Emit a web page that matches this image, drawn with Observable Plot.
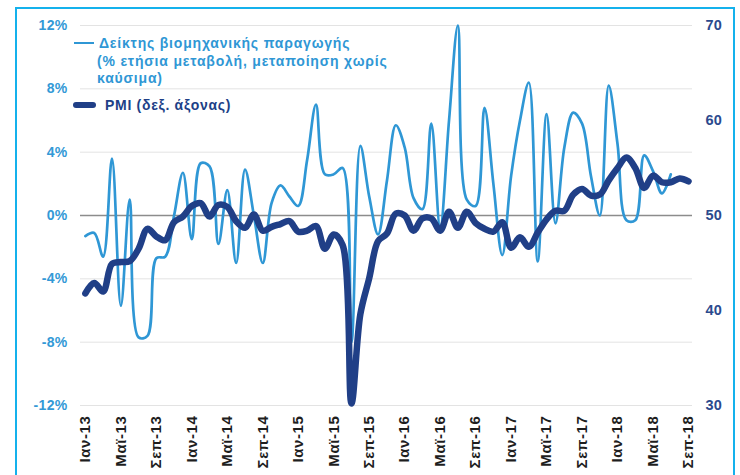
<!DOCTYPE html>
<html><head><meta charset="utf-8">
<script src="https://cdn.jsdelivr.net/npm/d3@7"></script>
<script src="https://cdn.jsdelivr.net/npm/@observablehq/plot@0.6"></script>
<style>
body{margin:0;background:#fff;font-family:"Liberation Sans",Arial,sans-serif;}
#wrap{position:relative;width:740px;height:475px;overflow:hidden;}
#frame{position:absolute;left:15px;top:7px;width:716px;height:520px;border:2px solid #14b1ec;}
#chart{position:absolute;left:0;top:0;}
.lg{position:absolute;white-space:nowrap;font-size:14px;font-weight:bold;line-height:16px;letter-spacing:0.8px;}
g[aria-label="x-axis tick label"] text{letter-spacing:0.6px;}
g[aria-label="y-axis tick label"] text{letter-spacing:0.3px;}
</style></head><body>
<div id="wrap">
  <div id="frame"></div>
  <div id="chart"></div>
  <div class="lg" style="left:74px;top:41.5px;width:20px;height:2.6px;background:#2f97d5"></div>
  <div class="lg" style="left:99px;top:35px;color:#2f97d5">Δείκτης βιομηχανικής παραγωγής</div>
  <div class="lg" style="left:97px;top:53px;color:#2f97d5">(% ετήσια μεταβολή, μεταποίηση χωρίς</div>
  <div class="lg" style="left:97px;top:70px;color:#2f97d5">καύσιμα)</div>
  <div class="lg" style="left:73px;top:101.5px;width:23px;height:6px;border-radius:3px;background:#203f87"></div>
  <div class="lg" style="left:105px;top:97px;color:#203f87;letter-spacing:0.7px">PMI (δεξ. άξονας)</div>
</div>
<script>
const monthNames = ["Ιαν","Φεβ","Μαρ","Απρ","Μαϊ","Ιουν","Ιουλ","Αυγ","Σεπ","Οκτ","Νοε","Δεκ"];
const years = ["13","14","15","16","17","18"];
const lastMonthIndex = 68; // Σεπ-18

// Industrial production index, % y/y (manufacturing excl. fuels), Jan-13 .. Jul-18
const ipValues = [
  -1.3, -1.1, -2.6, 3.6, -5.7, 1.0, -7.7, -7.6, -2.7, -2.6, 0.0, 2.7,
  -1.5, 3.3, 3.1, -1.8, 1.6, -3.0, 2.9, 0.0, -3.0, 0.8, 1.9, 1.2,
  0.6, 3.5, 7.0, 2.6, 2.6, 3.0, -8.0, 4.4, 1.2, -1.2, 2.2, 5.7,
  4.3, 1.1, 0.4, 5.8, -0.8, 6.0, 12.0, 1.0, 0.6, 6.8, 2.0, -2.5,
  2.5, 6.0, 8.4, -2.9, 6.4, -0.5, 4.3, 6.5, 5.8, 2.5, 0.0, 8.2,
  4.5, -0.3, -0.3, 3.8, 2.8, 1.4, 2.6, null, null
];
// PMI (right axis), Jan-13 .. Sep-18
const pmiValues = [
  41.8, 42.9, 42.0, 44.9, 45.1, 45.2, 46.5, 48.6, 47.8, 47.4, 49.3, 49.9,
  51.0, 51.3, 49.9, 51.1, 50.9, 49.4, 48.7, 50.1, 48.4, 48.8, 49.1, 49.4,
  48.3, 48.4, 48.9, 46.5, 48.0, 46.9, 30.2, 39.6, 43.4, 47.3, 48.1, 50.2,
  50.0, 48.4, 49.7, 49.7, 48.4, 50.4, 48.7, 50.4, 49.2, 48.6, 48.3, 49.3,
  46.6, 47.7, 46.7, 48.2, 49.6, 50.5, 50.5, 52.2, 52.8, 52.1, 52.2, 53.7,
  55.0, 56.1, 55.0, 52.9, 54.2, 53.5, 53.5, 53.9, 53.6
];
const leftTicks = [-12, -8, -4, 0, 4, 8, 12];
const rightTicks = [30, 40, 50, 60, 70];
const xTickStep = 4;

const months = [];
for (const y of years) for (const m of monthNames) months.push(m + "-" + y);
const labels = months.slice(0, lastMonthIndex + 1);
const rows = labels.map((label, i) => ({i, label, ip: ipValues[i], pmi: pmiValues[i]}));
const xTicks = labels.map((_, i) => i).filter(i => i % xTickStep === 0);

// right axis 30..70 maps onto left axis -12..12
const toLeft = p => (p - 50) * 0.6;
const fromLeft = v => Math.round(v / 0.6 + 50);
const font = "Liberation Sans, Arial, sans-serif";

const chart = Plot.plot({
  width: 740, height: 475,
  marginLeft: 80, marginRight: 48, marginTop: 25, marginBottom: 70,
  x: {domain: [-0.55, labels.length - 1 + 0.45], axis: null},
  y: {domain: [-12, 12], axis: null, label: null},
  style: {fontFamily: font, background: "transparent", overflow: "visible"},
  marks: [
    Plot.gridY(leftTicks.filter(d => d !== 0), {stroke: "#e3e3e3", strokeOpacity: 1, strokeWidth: 1}),
    Plot.ruleY([0], {stroke: "#8c8c8c", strokeWidth: 1.3}),
    Plot.axisY(leftTicks, {anchor: "left", label: null, tickSize: 0, tickPadding: 13,
      tickFormat: d => d + "%", fill: "#3399d6", fontSize: 14, fontWeight: "bold"}),
    Plot.axisY(rightTicks.map(toLeft), {anchor: "right", label: null, tickSize: 0, tickPadding: 13,
      tickFormat: fromLeft, fill: "#2b4a8e", fontSize: 14.5, fontWeight: "bold"}),
    Plot.axisX(xTicks, {anchor: "bottom", label: null, tickSize: 0, tickPadding: 10, tickRotate: -90,
      textAnchor: "end", tickFormat: i => labels[i], fill: "#1e1e1e", fontSize: 15, fontWeight: "bold"}),
    Plot.line(rows, {x: "i", y: "ip", stroke: "#2f97d5", strokeWidth: 2.7, curve: "catmull-rom"}),
    Plot.line(rows, {x: "i", y: d => toLeft(d.pmi), stroke: "#203f87", strokeWidth: 6.5,
      curve: "catmull-rom", strokeLinecap: "round", strokeLinejoin: "round"})
  ]
});
document.getElementById("chart").appendChild(chart);
</script>
</body></html>
